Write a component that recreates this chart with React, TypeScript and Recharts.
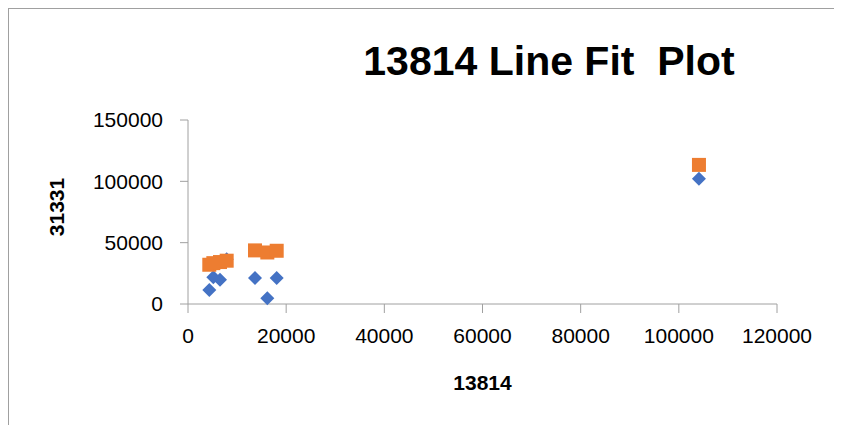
import { ScatterChart, Scatter, XAxis, YAxis, Label } from 'recharts';

// x = 13814, y = 31331 (actual) and predicted 31331
const xValues = [4340, 5160, 6520, 7880, 13650, 16160, 18070, 104100];
const actualValues = [11500, 21900, 19700, 36500, 21100, 4700, 21100, 102200];
const predictedValues = [32000, 33300, 34200, 35300, 43700, 42000, 43400, 113400];

const xTicks = [0, 20000, 40000, 60000, 80000, 100000, 120000];
const yTicks = [0, 50000, 100000, 150000];

const actualData = xValues.map((x, i) => ({ x, y: actualValues[i] }));
const predictedData = xValues.map((x, i) => ({ x, y: predictedValues[i] }));

const FONT = '"Liberation Sans", Arial, sans-serif';
const AXIS_COLOR = '#a0a0a0';

const Diamond = (props: any) => {
    const { cx, cy } = props;
    const r = 7;
    return <polygon points={`${cx},${cy - r} ${cx + r},${cy} ${cx},${cy + r} ${cx - r},${cy}`} fill="#4472C4" />;
};

const Square = (props: any) => {
    const { cx, cy } = props;
    return <rect x={cx - 7} y={cy - 7} width={14} height={14} fill="#ED7D31" />;
};

function App() {
    return (
        <div style={{
            position: 'relative', width: 834, height: 417, boxSizing: 'border-box', overflow: 'hidden',
            borderTop: `1px solid ${AXIS_COLOR}`, borderLeft: `1px solid ${AXIS_COLOR}`, fontFamily: FONT,
        }}>
            <style>{'html, body { overflow: hidden; }'}</style>
            <div style={{
                position: 'absolute', left: 300, width: 480, top: 32, textAlign: 'center',
                fontSize: 41, fontWeight: 'bold', whiteSpace: 'pre', lineHeight: '41px', color: '#000',
            }}>
                {'13814 Line Fit  Plot'}
            </div>
            <ScatterChart
                width={825}
                height={410}
                margin={{ top: 111, right: 57, bottom: 75, left: 89 }}
            >
                <XAxis
                    type="number"
                    dataKey="x"
                    domain={[0, 120000]}
                    ticks={xTicks}
                    interval={0}
                    height={40}
                    stroke={AXIS_COLOR}
                    tickSize={9}
                    tickMargin={15}
                    tick={{ fill: '#000', fontSize: 21, fontFamily: FONT }}
                >
                    <Label value="13814" position="center" dy={59} style={{ fontSize: 21, fontWeight: 'bold', fill: '#000', fontFamily: FONT }} />
                </XAxis>
                <YAxis
                    type="number"
                    dataKey="y"
                    domain={[0, 150000]}
                    ticks={yTicks}
                    interval={0}
                    width={90}
                    stroke={AXIS_COLOR}
                    tickSize={8}
                    tickMargin={17}
                    tick={{ fill: '#000', fontSize: 21, fontFamily: FONT }}
                >
                    <Label value="31331" position="center" angle={-90} dx={-86} dy={-5} style={{ fontSize: 21, fontWeight: 'bold', fill: '#000', fontFamily: FONT }} />
                </YAxis>
                <Scatter data={actualData} shape={Diamond} isAnimationActive={false} />
                <Scatter data={predictedData} shape={Square} isAnimationActive={false} />
            </ScatterChart>
        </div>
    );
}

export default App;
